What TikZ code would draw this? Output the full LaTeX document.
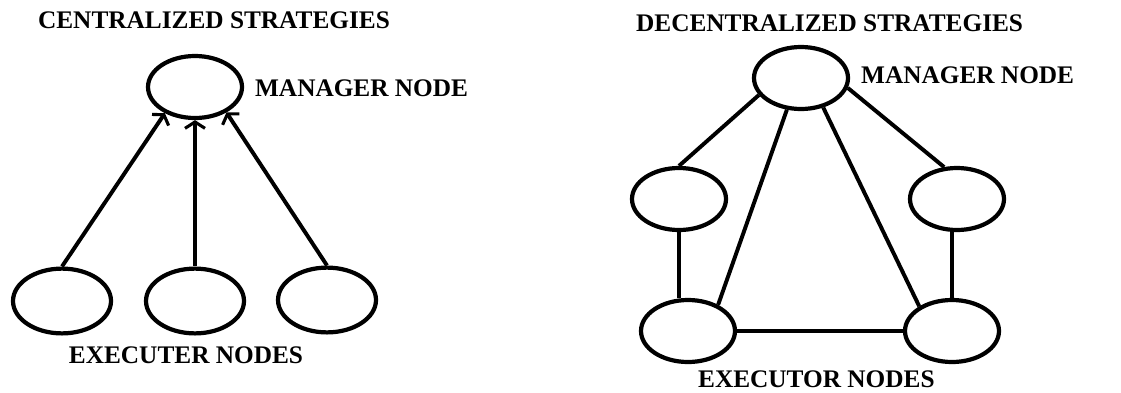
\documentclass[tikz,border=0pt]{standalone}
\usepackage{fontspec}
\setmainfont{Liberation Serif}
\usetikzlibrary{shapes.geometric,arrows.meta}
\tikzset{
    unit/.style={ellipse, draw, line width=3pt, minimum width=2.35cm, minimum height=1.55cm},
    lbl/.style={font=\bfseries\fontsize{18}{21}\selectfont},
    link/.style={line width=2.8pt},
    push/.style={link, -{Straight Barb[length=1.6mm,width=5mm,line width=2.2pt]}},
}
\begin{document}
\begin{tikzpicture}
    \useasboundingbox (0,0) rectangle (28.025,9.8);
    % centralized
    \node[lbl] (ct) at (5.35,9.3) {CENTRALIZED STRATEGIES};
    \node[unit] (lm) at (4.875,7.625) {};
    \node[lbl] (lmt) at (9.04,7.6) {MANAGER NODE};
    \node[unit, minimum width=2.45cm, minimum height=1.62cm] (le1) at (1.55,2.275) {};
    \node[unit, minimum width=2.45cm, minimum height=1.62cm] (le2) at (4.875,2.275) {};
    \node[unit, minimum width=2.45cm, minimum height=1.62cm] (le3) at (8.175,2.3) {};
    \node[lbl] (let) at (4.65,0.925) {EXECUTER NODES};
    \draw[push] (le1.north) -- (lm.221);
    \draw[push] (le2.north) -- (lm.south);
    \draw[push] (le3.north) -- (lm.321);
    % decentralized
    \node[lbl] (dt) at (20.74,9.225) {DECENTRALIZED STRATEGIES};
    \node[unit] (rm) at (20.025,7.85) {};
    \node[lbl] (rmt) at (24.19,7.925) {MANAGER NODE};
    \node[unit] (ml) at (16.975,4.825) {};
    \node[unit] (mr) at (23.925,4.825) {};
    \node[unit] (bl) at (17.2,1.525) {};
    \node[unit] (br) at (23.8,1.525) {};
    \node[lbl] (rbt) at (20.41,0.33) {EXECUTOR NODES};
    \draw[link] (rm.202) -- (ml.north);
    \draw[link] (rm.348) -- (mr.112);
    \draw[link] (rm.246) -- (bl.41);
    \draw[link] (rm.307) -- (br.143);
    \draw[link] (ml.south) -- (ml.south |- bl.north);
    \draw[link] (br.north) -- (br.north |- mr.south);
    \draw[link] (bl.east) -- (br.west);
\end{tikzpicture}
\end{document}
